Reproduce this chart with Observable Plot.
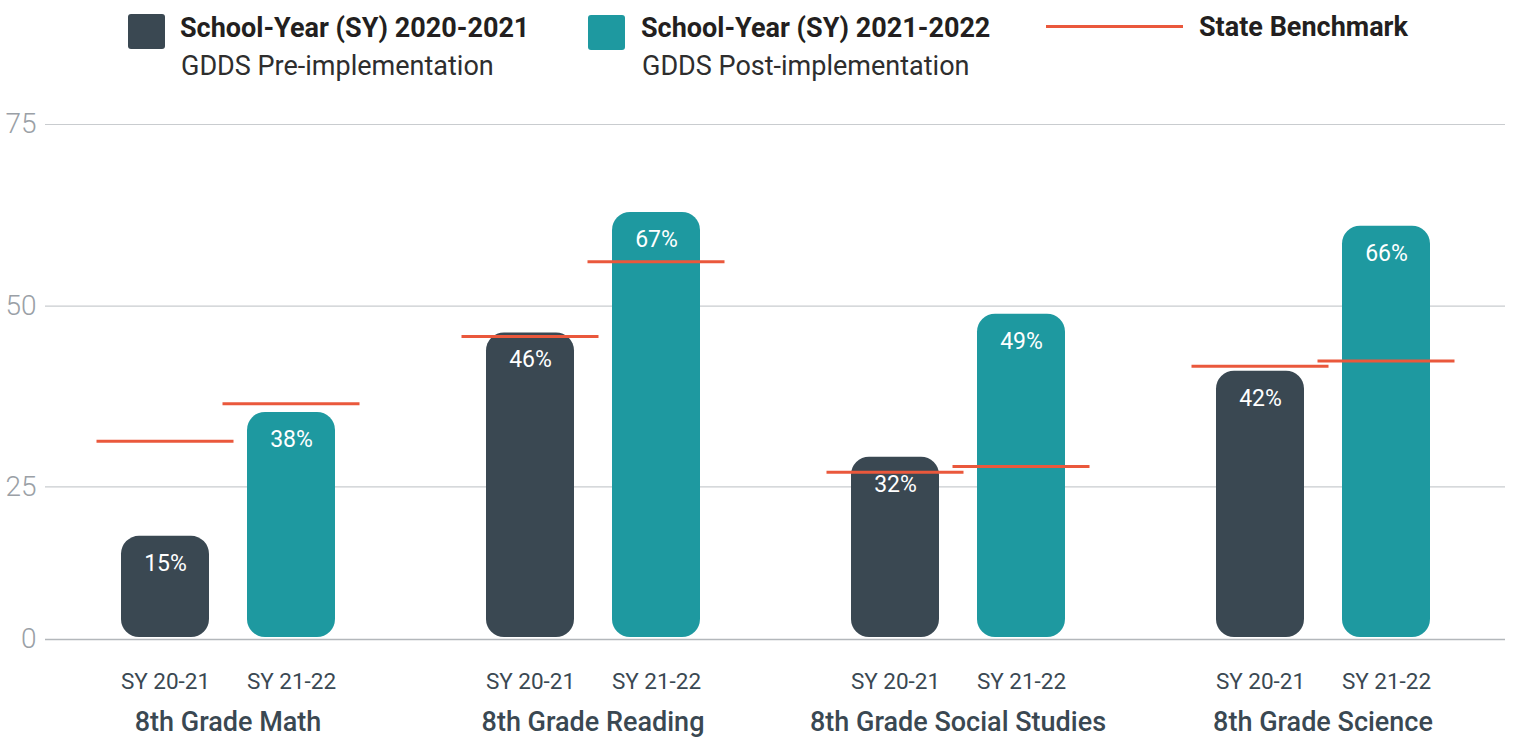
<!DOCTYPE html>
<html>
<head>
<meta charset="utf-8">
<script src="https://cdn.jsdelivr.net/npm/d3@7"></script>
<script src="https://cdn.jsdelivr.net/npm/@observablehq/plot@0.6"></script>
<style>
  html, body { margin: 0; padding: 0; background: #fff; }
  body { width: 1516px; height: 737px; overflow: hidden; font-family: Roboto, "Open Sans", sans-serif; }
  #legend { position: relative; width: 1516px; height: 100px; }
  .sw { position: absolute; width: 37px; height: 35px; border-radius: 3px; }
  .t { position: absolute; white-space: nowrap; line-height: 1; }
  .b { font-weight: 700; font-size: 27px; color: #231f20; }
  .r { font-weight: 400; font-size: 27px; color: #2e2e2e; }
  .bm { position: absolute; left: 1046px; top: 25px; width: 137px; height: 3px; background: #ea583c; }
  #chart svg { display: block; }
</style>
</head>
<body>
<div id="legend">
  <div class="sw" style="left:128px;top:14px;background:#3a4852;"></div>
  <div class="t b" style="left:180px;top:15px;">School-Year (SY) 2020-2021</div>
  <div class="t r" style="left:181px;top:53px;">GDDS Pre-implementation</div>
  <div class="sw" style="left:588px;top:15px;background:#1e99a0;"></div>
  <div class="t b" style="left:641px;top:15px;">School-Year (SY) 2021-2022</div>
  <div class="t r" style="left:642px;top:53px;">GDDS Post-implementation</div>
  <div class="bm"></div>
  <div class="t b" style="left:1199px;top:14px;">State Benchmark</div>
</div>
<div id="chart"></div>
<script>
// Categories
const subjects = ["8th Grade Math", "8th Grade Reading", "8th Grade Social Studies", "8th Grade Science"];
const years = ["SY 20-21", "SY 21-22"];
// Printed percentages
const pct2021 = [15, 46, 32, 42];
const pct2122 = [38, 67, 49, 66];
// Bar heights as drawn against the axis
const bar2021 = [16.9, 46.3, 29.1, 41.0];
const bar2122 = [35.3, 62.9, 48.9, 61.0];
// State benchmark levels
const bench2021 = [31.3, 45.8, 27.0, 41.7];
const bench2122 = [36.5, 56.1, 27.8, 42.4];
// Axis ticks
const yTicks = [0, 25, 50, 75];

const data = [];
subjects.forEach((s, i) => {
  data.push({subject: s, year: years[0], h: bar2021[i], pct: pct2021[i], bench: bench2021[i]});
  data.push({subject: s, year: years[1], h: bar2122[i], pct: pct2122[i], bench: bench2122[i]});
});

// The reference axis is uneven: the 0–25 band is shorter than the others.
const axisWarp = d3.scaleLinear().domain(yTicks).range([0, 152.7, 333.3, 515]);

const chart = Plot.plot({
  width: 1516,
  height: 637,
  marginLeft: 44,
  marginRight: 10,
  marginTop: 24,
  marginBottom: 98,
  style: {fontFamily: "Roboto, sans-serif", background: "transparent", overflow: "visible"},
  fx: {domain: subjects, padding: 0, label: null},
  x: {domain: years, paddingInner: 0.303, paddingOuter: 0.59, label: null},
  y: {transform: axisWarp, domain: [axisWarp(0), axisWarp(75)], label: null},
  color: {domain: years, range: ["#3a4852", "#1e99a0"]},
  marks: [
    Plot.gridY(yTicks.slice(1), {stroke: "#c9cccf", strokeOpacity: 1, strokeWidth: 1.2}),
    Plot.ruleY([0], {stroke: "#b3b7bb", strokeWidth: 1.5}),
    Plot.barY(data, {fx: "subject", x: "year", y: "h", fill: "year", rx: 18, insetBottom: 2}),
    Plot.tickY(data, {fx: "subject", x: "year", y: "bench", stroke: "#ea583c", strokeWidth: 3, insetLeft: -24.5, insetRight: -24.5}),
    Plot.text(data, {fx: "subject", x: "year", y: "h", text: d => d.pct + "%", dy: 27, fill: "white", fontSize: 23, fontWeight: 400}),
    Plot.axisY(yTicks, {tickSize: 0, tickPadding: 9, fontSize: 28, fontWeight: 300, fill: "#9aa0a6", label: null}),
    Plot.axisX({anchor: "bottom", tickSize: 0, tickPadding: 34, fontSize: 22.5, fill: "#3a4852", label: null}),
    Plot.axisFx({anchor: "bottom", tickSize: 0, tickPadding: 72, fontSize: 27, fontWeight: 500, fill: "#3a4852", label: null})
  ]
});
document.getElementById("chart").appendChild(chart);
</script>
</body>
</html>
